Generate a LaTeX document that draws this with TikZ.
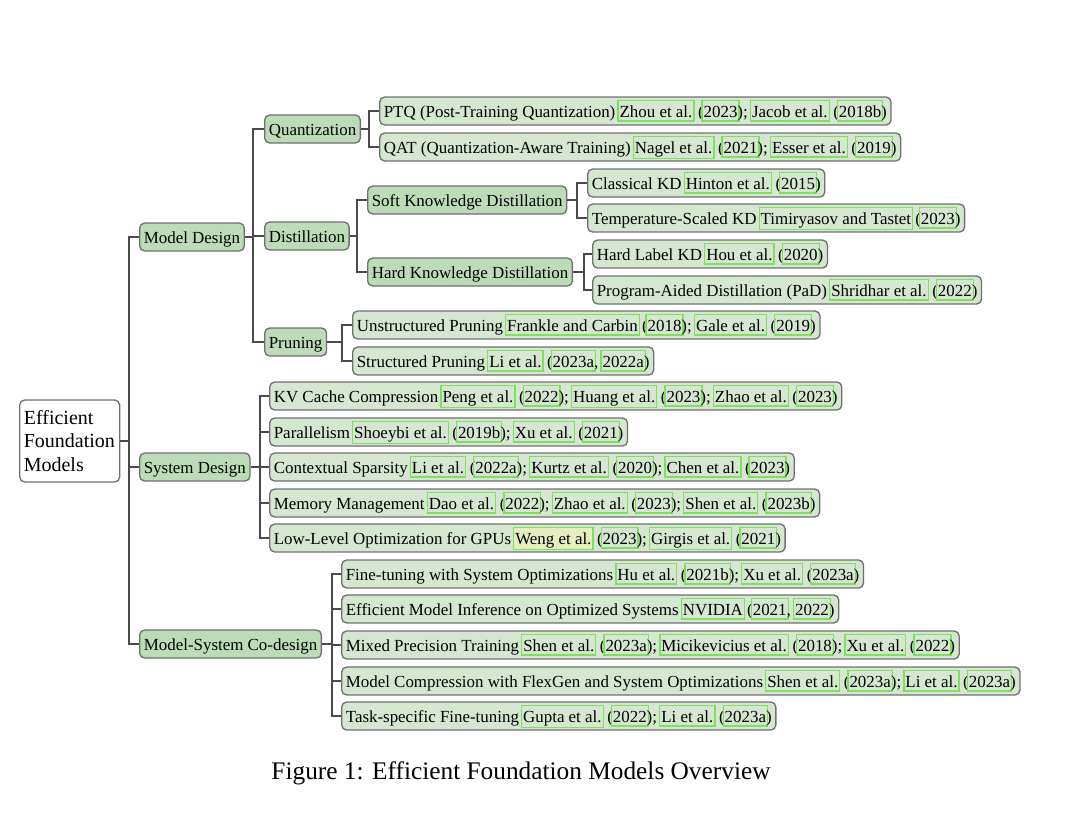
\documentclass[tikz,border=0pt]{standalone}
\usepackage{fontspec}
\setmainfont{Liberation Serif}
\definecolor{lkg}{HTML}{7EE05E}
\definecolor{hly}{HTML}{E6EEC0}
\definecolor{midg}{HTML}{BCDCB8}
\definecolor{leafg}{HTML}{D5E6D1}
\definecolor{bordg}{HTML}{707070}
\definecolor{lineg}{HTML}{4A4A4A}
\newcommand\lk[1]{\leavevmode\rlap{\kern-1.3pt{\fboxsep=0.55pt\fboxrule=0.75pt\color{lkg}\fbox{\rule[-1.4pt]{0pt}{10.2pt}\phantom{#1}}}}#1}
\newcommand\hlk[1]{\leavevmode\rlap{\kern-1.3pt{\fboxsep=0.55pt\fboxrule=0.75pt\fcolorbox{lkg}{hly}{\rule[-1.4pt]{0pt}{10.2pt}\phantom{#1}}}}#1}
\tikzset{
  base/.style={draw=bordg, line width=0.8pt, rounded corners=3pt, anchor=west,
    font=\fontsize{10.15}{12}\selectfont, inner xsep=2.5pt, inner ysep=1.5pt,
    text height=10.5pt, text depth=3.3pt},
  catbox/.style={base, fill=midg},
  leafbox/.style={base, fill=leafg},
  rootbox/.style={draw=bordg, line width=0.8pt, rounded corners=3pt, fill=white,
    font=\fontsize{12}{14.1}\selectfont, align=left, inner xsep=2.5pt, inner ysep=3pt,
    anchor=west, minimum height=49.2pt, text width=55pt},
  conn/.style={draw=lineg, line width=0.9pt}
}
\begin{document}
\begin{tikzpicture}[x=0.6pt,y=-0.6pt]
\useasboundingbox (0,0) rectangle (1090,816);
% root
\node[rootbox] (root) at (19,441) {Efficient\\Foundation\\Models};
% level 1
\node[catbox] (md) at (139,237) {Model Design};
\node[catbox] (sd) at (139,467) {System Design};
\node[catbox] (cd) at (139,644) {Model-System Co-design};
% model design
\node[catbox] (qu) at (264,129) {Quantization};
\node[catbox] (di) at (264,236) {Distillation};
\node[catbox] (pr) at (264,342) {Pruning};
\node[leafbox] (ptq) at (379,111) {PTQ (Post-Training Quantization) \lk{Zhou et al.} (\lk{2023}); \lk{Jacob et al.} (\lk{2018b})};
\node[leafbox] (qat) at (379,147) {QAT (Quantization-Aware Training) \lk{Nagel et al.} (\lk{2021}); \lk{Esser et al.} (\lk{2019})};
\node[catbox] (skd) at (367,200) {Soft Knowledge Distillation};
\node[catbox] (hkd) at (367,272) {Hard Knowledge Distillation};
\node[leafbox] (ckd) at (587,183) {Classical KD \lk{Hinton et al.} (\lk{2015})};
\node[leafbox] (tkd) at (587,218) {Temperature-Scaled KD \lk{Timiryasov and Tastet} (\lk{2023})};
\node[leafbox] (hlkd) at (592,254) {Hard Label KD \lk{Hou et al.} (\lk{2020})};
\node[leafbox] (pad) at (592,290) {Program-Aided Distillation (PaD) \lk{Shridhar et al.} (\lk{2022})};
\node[leafbox] (upr) at (352,325) {Unstructured Pruning \lk{Frankle and Carbin} (\lk{2018}); \lk{Gale et al.} (\lk{2019})};
\node[leafbox] (spr) at (352,361) {Structured Pruning \lk{Li et al.} (\lk{2023a}, \lk{2022a})};
% system design
\node[leafbox] (kv) at (269,396) {KV Cache Compression \lk{Peng et al.} (\lk{2022}); \lk{Huang et al.} (\lk{2023}); \lk{Zhao et al.} (\lk{2023})};
\node[leafbox] (par) at (269,432) {Parallelism \lk{Shoeybi et al.} (\lk{2019b}); \lk{Xu et al.} (\lk{2021})};
\node[leafbox] (cs) at (269,467) {Contextual Sparsity \lk{Li et al.} (\lk{2022a}); \lk{Kurtz et al.} (\lk{2020}); \lk{Chen et al.} (\lk{2023})};
\node[leafbox] (mm) at (269,503) {Memory Management \lk{Dao et al.} (\lk{2022}); \lk{Zhao et al.} (\lk{2023}); \lk{Shen et al.} (\lk{2023b})};
\node[leafbox] (ll) at (269,538) {Low-Level Optimization for GPUs \hlk{Weng et al.} (\lk{2023}); \lk{Girgis et al.} (\lk{2021})};
% co-design
\node[leafbox] (ft) at (341,574) {Fine-tuning with System Optimizations \lk{Hu et al.} (\lk{2021b}); \lk{Xu et al.} (\lk{2023a})};
\node[leafbox] (emi) at (341,609) {Efficient Model Inference on Optimized Systems \lk{NVIDIA} (\lk{2021}, \lk{2022})};
\node[leafbox] (mp) at (341,645) {Mixed Precision Training \lk{Shen et al.} (\lk{2023a}); \lk{Micikevicius et al.} (\lk{2018}); \lk{Xu et al.} (\lk{2022})};
\node[leafbox] (mc) at (341,681) {Model Compression with FlexGen and System Optimizations \lk{Shen et al.} (\lk{2023a}); \lk{Li et al.} (\lk{2023a})};
\node[leafbox] (ts) at (341,716) {Task-specific Fine-tuning \lk{Gupta et al.} (\lk{2022}); \lk{Li et al.} (\lk{2023a})};
% trunks
\coordinate (t0) at (129,0);
\coordinate (t1) at (253,0);
\coordinate (tq) at (369,0);
\coordinate (td) at (357,0);
\coordinate (ts1) at (577,0);
\coordinate (th) at (584,0);
\coordinate (tp) at (342,0);
\coordinate (tsd) at (260,0);
\coordinate (tcd) at (332,0);
% connectors
\foreach \c in {md,sd,cd} \draw[conn] (root.east) -- (root.east -| t0) |- (\c.west);
\foreach \c in {qu,di,pr} \draw[conn] (md.east) -- (md.east -| t1) |- (\c.west);
\foreach \c in {ptq,qat} \draw[conn] (qu.east) -- (qu.east -| tq) |- (\c.west);
\foreach \c in {skd,hkd} \draw[conn] (di.east) -- (di.east -| td) |- (\c.west);
\foreach \c in {ckd,tkd} \draw[conn] (skd.east) -- (skd.east -| ts1) |- (\c.west);
\foreach \c in {hlkd,pad} \draw[conn] (hkd.east) -- (hkd.east -| th) |- (\c.west);
\foreach \c in {upr,spr} \draw[conn] (pr.east) -- (pr.east -| tp) |- (\c.west);
\foreach \c in {kv,par,cs,mm,ll} \draw[conn] (sd.east) -- (sd.east -| tsd) |- (\c.west);
\foreach \c in {ft,emi,mp,mc,ts} \draw[conn] (cd.east) -- (cd.east -| tcd) |- (\c.west);
% caption
\node[font=\fontsize{15.2}{18}\selectfont, anchor=base] (cap) at (521,779) {Figure 1: Efficient Foundation Models Overview};
\end{tikzpicture}
\end{document}
